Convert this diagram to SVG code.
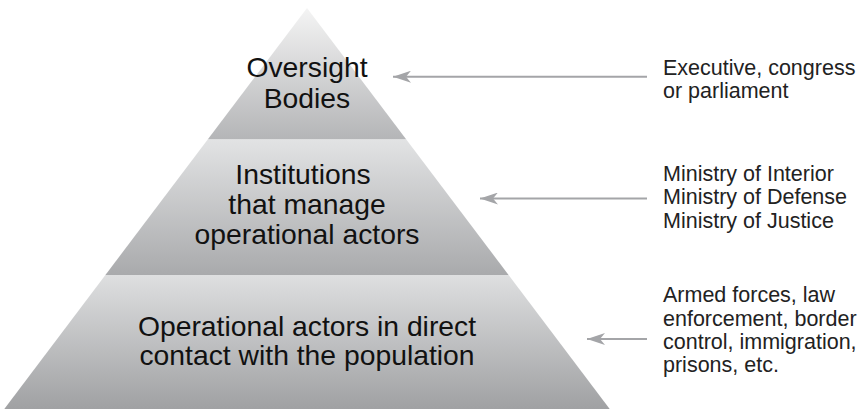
<svg xmlns="http://www.w3.org/2000/svg" width="863" height="411" viewBox="0 0 863 411">
  <defs>
    <linearGradient id="gTop" x1="0" y1="0" x2="0" y2="1">
      <stop offset="0" stop-color="#f4f4f4"/>
      <stop offset="1" stop-color="#b4b5b7"/>
    </linearGradient>
    <linearGradient id="gMid" x1="0" y1="0" x2="0" y2="1">
      <stop offset="0" stop-color="#e2e3e4"/>
      <stop offset="1" stop-color="#a9aaac"/>
    </linearGradient>
    <linearGradient id="gBot" x1="0" y1="0" x2="0" y2="1">
      <stop offset="0" stop-color="#dedfe0"/>
      <stop offset="1" stop-color="#a0a1a3"/>
    </linearGradient>
    <marker id="arr" viewBox="0 0 18 12" refX="18" refY="6" markerWidth="18" markerHeight="12" markerUnits="userSpaceOnUse" orient="auto">
      <path d="M18,6 L0,0 L5,6 L0,12 Z" fill="#a4a5a8"/>
    </marker>
  </defs>
  <style>
    .main { font-family: "Liberation Sans", Arial, sans-serif; font-size: 28.3px; fill: #111; text-anchor: middle; }
    .side { font-family: "Liberation Sans", Arial, sans-serif; font-size: 21.5px; fill: #222; }
    .conn { stroke: #a4a5a8; stroke-width: 2; fill: none; }
  </style>

  <g id="tier-oversight">
    <polygon points="307,8 406.3,139.5 207.7,139.5" fill="url(#gTop)"/>
    <text class="main" x="307" y="77">Oversight</text>
    <text class="main" x="307" y="107.5">Bodies</text>
  </g>
  <g id="tier-institutions">
    <polygon points="207.7,139.5 406.3,139.5 508.6,275 105.4,275" fill="url(#gMid)"/>
    <text class="main" x="303" y="184">Institutions</text>
    <text class="main" x="307" y="214">that manage</text>
    <text class="main" x="307" y="243.5">operational actors</text>
  </g>
  <g id="tier-operational">
    <polygon points="105.4,275 508.6,275 609.7,409 4.3,409" fill="url(#gBot)"/>
    <text class="main" x="307" y="335.5">Operational actors in direct</text>
    <text class="main" x="307" y="365">contact with the population</text>
  </g>

  <g id="label-oversight">
    <text class="side" x="663" y="74.5">Executive, congress</text>
    <text class="side" x="663" y="97.8">or parliament</text>
  </g>
  <g id="label-institutions">
    <text class="side" x="663" y="181">Ministry of Interior</text>
    <text class="side" x="663" y="204.3">Ministry of Defense</text>
    <text class="side" x="663" y="227.6">Ministry of Justice</text>
  </g>
  <g id="label-operational">
    <text class="side" x="663" y="302.3">Armed forces, law</text>
    <text class="side" x="663" y="325.6">enforcement, border</text>
    <text class="side" x="663" y="348.9">control, immigration,</text>
    <text class="side" x="663" y="372.2">prisons, etc.</text>
  </g>

  <g id="connectors">
    <line class="conn" x1="647" y1="76.7" x2="393" y2="76.7" marker-end="url(#arr)"/>
    <line class="conn" x1="647" y1="198.5" x2="480" y2="198.5" marker-end="url(#arr)"/>
    <line class="conn" x1="647" y1="339" x2="587" y2="339" marker-end="url(#arr)"/>
  </g>
</svg>
